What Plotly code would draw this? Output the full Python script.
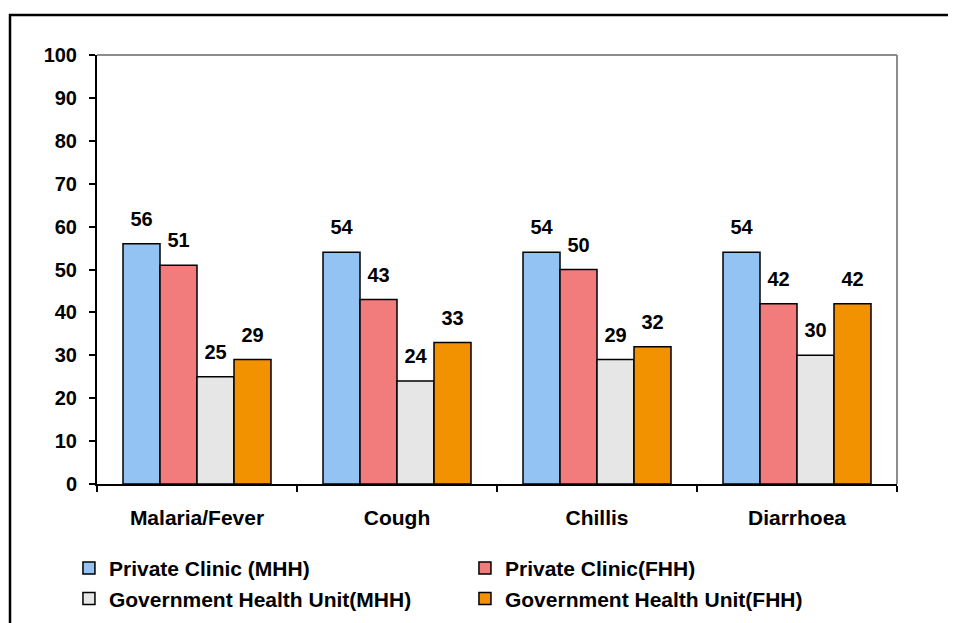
import plotly.graph_objects as go

categories = ["Malaria/Fever", "Cough", "Chillis", "Diarrhoea"]
series_names = ["Private Clinic (MHH)", "Private Clinic(FHH)",
                "Government Health Unit(MHH)", "Government Health Unit(FHH)"]
private_mhh = [56, 54, 54, 54]
private_fhh = [51, 43, 50, 42]
gov_mhh = [25, 24, 29, 30]
gov_fhh = [29, 33, 32, 42]
y_ticks = [0, 10, 20, 30, 40, 50, 60, 70, 80, 90, 100]

values = [private_mhh, private_fhh, gov_mhh, gov_fhh]
colors = ["#93C3F3", "#F27C7C", "#E6E6E6", "#F29200"]

FONT = "Liberation Sans, Arial, sans-serif"

fig = go.Figure()
for i, (name, vals, col) in enumerate(zip(series_names, values, colors)):
    fig.add_trace(go.Bar(
        x=categories, y=vals, name=name, offsetgroup=str(i),
        marker=dict(color=col, line=dict(color="black", width=1.5)),
        hoverinfo="x+y+name",
    ))
for i, vals in enumerate(values):
    fig.add_trace(go.Scatter(
        x=categories, y=vals, mode="markers+text", text=[str(v) for v in vals],
        textposition="top center", offsetgroup=str(i),
        marker=dict(size=19, opacity=0),
        textfont=dict(family=FONT, size=20, color="black", weight="bold"),
        showlegend=False, hoverinfo="skip", cliponaxis=False,
    ))

fig.update_layout(
    width=948, height=615,
    margin=dict(l=89, r=59, t=47, b=139),
    paper_bgcolor="white", plot_bgcolor="white",
    barmode="group", bargap=0.26, bargroupgap=0,
    scattermode="group", scattergap=0.26,
    font=dict(family=FONT, size=20, color="black", weight="bold"),
    showlegend=True,
    legend=dict(
        orientation="h", xref="container", yref="container",
        x=0.0643, y=0.122, xanchor="left", yanchor="top",
        entrywidth=351, traceorder="normal",
        font=dict(family=FONT, size=21, color="black", weight="bold"),
        bgcolor="rgba(0,0,0,0)",
    ),
    xaxis=dict(
        type="category", showline=True, linecolor="black", linewidth=2,
        ticks="outside", tickson="boundaries", ticklen=6, tickwidth=2, tickcolor="black",
        showgrid=False, zeroline=False, ticklabelstandoff=14,
        tickfont=dict(family=FONT, size=21, color="black", weight="bold"),
    ),
    yaxis=dict(
        range=[0, 100], tickvals=y_ticks, showline=True, linecolor="black", linewidth=2,
        ticks="outside", ticklen=6, tickwidth=2, tickcolor="black",
        showgrid=False, zeroline=False, ticklabelstandoff=8,
        tickfont=dict(family=FONT, size=20, color="black", weight="bold"),
    ),
    shapes=[
        dict(type="line", xref="paper", yref="paper", x0=0, x1=1, y0=1, y1=1,
             line=dict(color="#8C8C8C", width=2)),
        dict(type="line", xref="paper", yref="paper", x0=1, x1=1, y0=0, y1=1,
             line=dict(color="#8C8C8C", width=2)),
        dict(type="rect", xref="paper", yref="paper", x0=-0.10875, x1=1.2,
             y0=-0.6, y1=1.0932, line=dict(color="black", width=2.5),
             fillcolor="rgba(0,0,0,0)", layer="below"),
    ],
)

fig.write_html("out.html")
